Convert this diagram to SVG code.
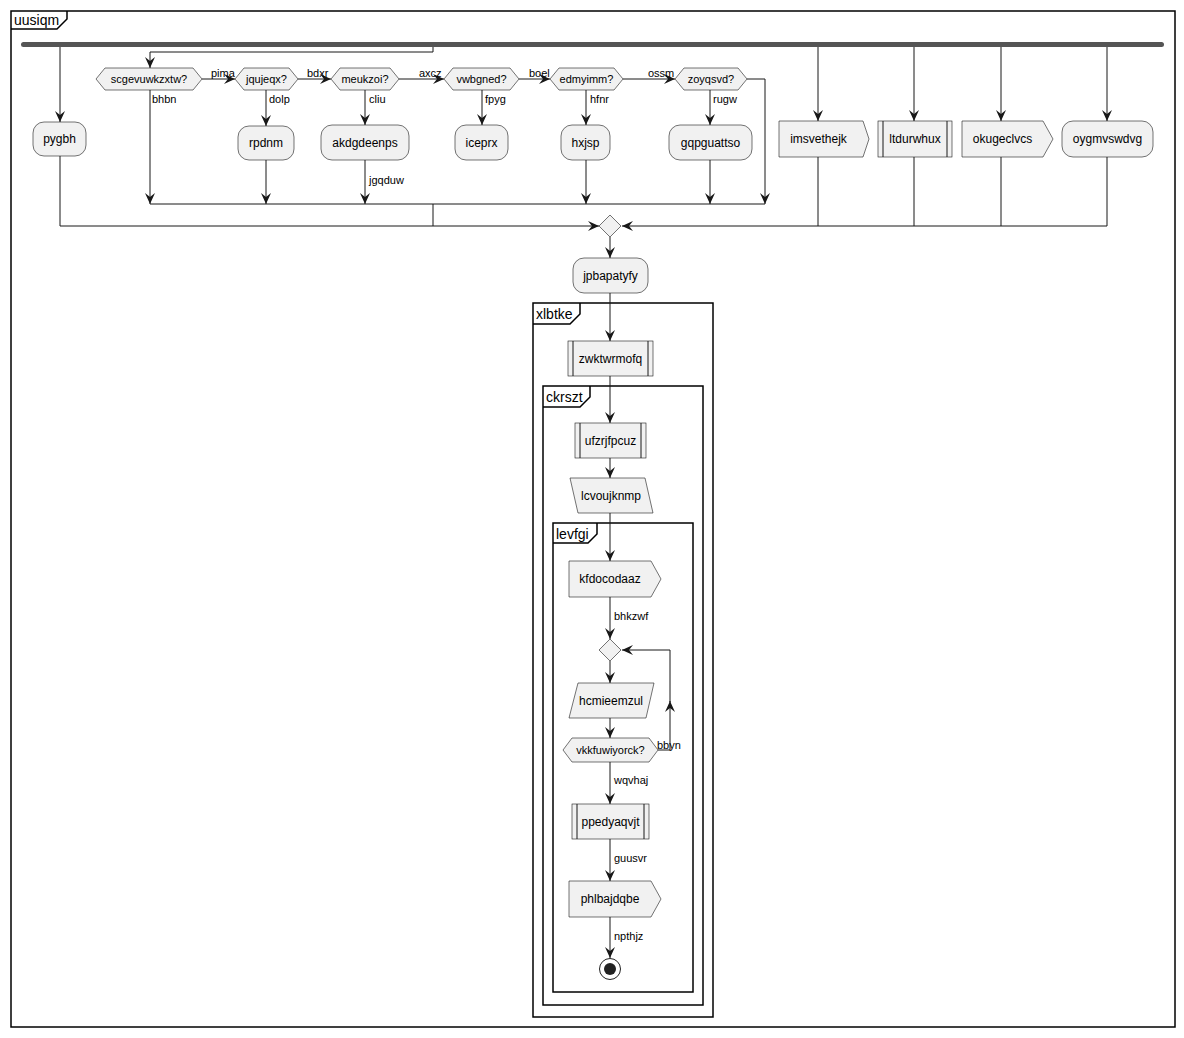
<svg xmlns="http://www.w3.org/2000/svg" width="1184" height="1038" viewBox="0 0 1184 1038">
<style>
text{font-family:"Liberation Sans",Arial,sans-serif;fill:#000}
.t{font-size:12px;text-anchor:middle}
.d{font-size:11px;text-anchor:middle}
.l{font-size:11px}
.f{font-size:14px}
.n{fill:#F1F1F1;stroke:#181818;stroke-width:0.6}
.fr{fill:none;stroke:#000;stroke-width:1.5}
.c{fill:none;stroke:#181818;stroke-width:1}
.ca{fill:none;stroke:#181818;stroke-width:1;marker-end:url(#ah)}
</style>
<defs>
<marker id="ah" viewBox="0 0 11 10" refX="11" refY="5" markerWidth="11" markerHeight="10" orient="auto" markerUnits="userSpaceOnUse"><path d="M0,0 L11,5 L0,10 L4,5 Z" fill="#181818"/></marker>
</defs>
<rect width="1184" height="1038" fill="#fff"/>
<!-- frames -->
<g id="frame-uusiqm">
<rect class="fr" x="11" y="11" width="1164" height="1016"/>
<path class="fr" d="M11,29 L57,29 L67,19 L67,11"/>
<text class="f" x="14" y="25">uusiqm</text>
</g>
<g id="frame-xlbtke">
<rect class="fr" x="533" y="303" width="180" height="714"/>
<path class="fr" d="M533,324 L570,324 L580,314 L580,303"/>
<text class="f" x="536" y="319">xlbtke</text>
</g>
<g id="frame-ckrszt">
<rect class="fr" x="543" y="386" width="160" height="619"/>
<path class="fr" d="M543,407 L580,407 L590,397 L590,386"/>
<text class="f" x="546" y="402">ckrszt</text>
</g>
<g id="frame-levfgi">
<rect class="fr" x="553" y="523" width="140" height="469"/>
<path class="fr" d="M553,543 L588,543 L597,534 L597,523"/>
<text class="f" x="556" y="539">levfgi</text>
</g>
<!-- connectors -->
<g id="connectors">
<path class="ca" d="M60,47 L60,122"/>
<path class="ca" d="M433,47 L433,52 L150,52 L150,68"/>
<path class="ca" d="M818,47 L818,121"/>
<path class="ca" d="M914,47 L914,121"/>
<path class="ca" d="M1001,47 L1001,121"/>
<path class="ca" d="M1107,47 L1107,121"/>
<path class="ca" d="M202,79 L235,79"/>
<path class="ca" d="M298,79 L331,79"/>
<path class="ca" d="M399,79 L444,79"/>
<path class="ca" d="M519,79 L550,79"/>
<path class="ca" d="M623,79 L675,79"/>
<path class="ca" d="M150,90 L150,204"/>
<path class="ca" d="M266,90 L266,126"/>
<path class="ca" d="M266,160 L266,204"/>
<path class="ca" d="M365,90 L365,125"/>
<path class="ca" d="M365,160 L365,204"/>
<path class="ca" d="M482,90 L482,125"/>
<path class="ca" d="M586,90 L586,125"/>
<path class="ca" d="M586,160 L586,204"/>
<path class="ca" d="M710,90 L710,125"/>
<path class="ca" d="M710,160 L710,204"/>
<path class="ca" d="M747,79 L765,79 L765,204"/>
<path class="c" d="M150,204 L765,204"/>
<path class="c" d="M433,204 L433,226"/>
<path class="ca" d="M60,156 L60,226 L599,226"/>
<path class="ca" d="M1107,157 L1107,226 L622,226"/>
<path class="c" d="M818,157 L818,226"/>
<path class="c" d="M914,157 L914,226"/>
<path class="c" d="M1001,157 L1001,226"/>
<path class="ca" d="M610,237 L610,258"/>
<path class="ca" d="M610,293 L610,341"/>
<path class="ca" d="M610,376 L610,423"/>
<path class="ca" d="M610,458 L610,478"/>
<path class="ca" d="M610,513 L610,561"/>
<path class="ca" d="M610,597 L610,639"/>
<path class="ca" d="M610,661 L610,683"/>
<path class="ca" d="M610,718 L610,738"/>
<path class="ca" d="M658,750 L670,750 L670,701"/>
<path class="ca" d="M670,702 L670,650 L622,650"/>
<path class="ca" d="M610,762 L610,804"/>
<path class="ca" d="M610,839 L610,881"/>
<path class="ca" d="M610,917 L610,958"/>
<text class="l" x="211" y="77">pima</text>
<text class="l" x="307" y="77">bdxr</text>
<text class="l" x="419" y="77">axcz</text>
<text class="l" x="529" y="77">boel</text>
<text class="l" x="648" y="77">ossm</text>
<text class="l" x="152" y="103">bhbn</text>
<text class="l" x="269" y="103">dolp</text>
<text class="l" x="369" y="103">cliu</text>
<text class="l" x="485" y="103">fpyg</text>
<text class="l" x="590" y="103">hfnr</text>
<text class="l" x="713" y="103">rugw</text>
<text class="l" x="369" y="184">jgqduw</text>
<text class="l" x="614" y="620">bhkzwf</text>
<text class="l" x="657" y="749">bbyn</text>
<text class="l" x="614" y="784">wqvhaj</text>
<text class="l" x="614" y="862">guusvr</text>
<text class="l" x="614" y="940">npthjz</text>
</g>
<!-- nodes -->
<g id="fork"><rect x="21" y="42" width="1143" height="5" rx="2.5" fill="#555555"/></g>
<g id="pygbh"><rect class="n" x="33" y="122" width="53" height="34" rx="11"/><text class="t" x="59.5" y="143">pygbh</text></g>
<g id="scgevuwkzxtw"><polygon class="n" points="96,79 105,68 193,68 202,79 193,90 105,90"/><text class="d" x="149" y="83">scgevuwkzxtw?</text></g>
<g id="jqujeqx"><polygon class="n" points="235,79 244,68 289,68 298,79 289,90 244,90"/><text class="d" x="266.5" y="83">jqujeqx?</text></g>
<g id="meukzoi"><polygon class="n" points="331,79 340,68 390,68 399,79 390,90 340,90"/><text class="d" x="365" y="83">meukzoi?</text></g>
<g id="vwbgned"><polygon class="n" points="444,79 453,68 510,68 519,79 510,90 453,90"/><text class="d" x="481.5" y="83">vwbgned?</text></g>
<g id="edmyimm"><polygon class="n" points="550,79 559,68 614,68 623,79 614,90 559,90"/><text class="d" x="586.5" y="83">edmyimm?</text></g>
<g id="zoyqsvd"><polygon class="n" points="675,79 684,68 738,68 747,79 738,90 684,90"/><text class="d" x="711" y="83">zoyqsvd?</text></g>
<g id="rpdnm"><rect class="n" x="238" y="126" width="56" height="34" rx="11"/><text class="t" x="266" y="147">rpdnm</text></g>
<g id="akdgdeenps"><rect class="n" x="321" y="125" width="88" height="35" rx="11"/><text class="t" x="365" y="147">akdgdeenps</text></g>
<g id="iceprx"><rect class="n" x="455" y="125" width="53" height="35" rx="11"/><text class="t" x="481.5" y="147">iceprx</text></g>
<g id="hxjsp"><rect class="n" x="561" y="125" width="49" height="35" rx="11"/><text class="t" x="585.5" y="147">hxjsp</text></g>
<g id="gqpguattso"><rect class="n" x="669" y="125" width="83" height="35" rx="11"/><text class="t" x="710.5" y="147">gqpguattso</text></g>
<g id="imsvethejk"><polygon class="n" points="779,121 863,121 869,139 863,157 779,157"/><text class="t" x="818.5" y="143">imsvethejk</text></g>
<g id="ltdurwhux"><rect class="n" x="878" y="121" width="74" height="36"/><path class="c" d="M883,121 L883,157 M947,121 L947,157" stroke-width="0.6"/><text class="t" x="915" y="143">ltdurwhux</text></g>
<g id="okugeclvcs"><polygon class="n" points="962,121 1043,121 1053,139 1043,157 962,157"/><text class="t" x="1002.5" y="143">okugeclvcs</text></g>
<g id="oygmvswdvg"><rect class="n" x="1062" y="121" width="91" height="36" rx="11"/><text class="t" x="1107.5" y="143">oygmvswdvg</text></g>
<g id="merge"><polygon class="n" points="610,215 621,226 610,237 599,226"/></g>
<g id="jpbapatyfy"><rect class="n" x="573" y="258" width="75" height="35" rx="11"/><text class="t" x="610.5" y="280">jpbapatyfy</text></g>
<g id="zwktwrmofq"><rect class="n" x="568" y="341" width="85" height="35"/><path class="c" d="M573,341 L573,376 M648,341 L648,376" stroke-width="0.6"/><text class="t" x="610.5" y="363">zwktwrmofq</text></g>
<g id="ufzrjfpcuz"><rect class="n" x="575" y="423" width="71" height="35"/><path class="c" d="M580,423 L580,458 M641,423 L641,458" stroke-width="0.6"/><text class="t" x="610.5" y="445">ufzrjfpcuz</text></g>
<g id="lcvoujknmp"><polygon class="n" points="570,478 645,478 653,513 578,513"/><text class="t" x="611" y="500">lcvoujknmp</text></g>
<g id="kfdocodaaz"><polygon class="n" points="569,561 651,561 661,579 651,597 569,597"/><text class="t" x="610" y="583">kfdocodaaz</text></g>
<g id="loop"><polygon class="n" points="610,639 621,650 610,661 599,650"/></g>
<g id="hcmieemzul"><polygon class="n" points="578,683 654,683 646,718 569,718"/><text class="t" x="611" y="705">hcmieemzul</text></g>
<g id="vkkfuwiyorck"><polygon class="n" points="563,750 572,738 649,738 658,750 649,762 572,762"/><text class="d" x="610.5" y="754">vkkfuwiyorck?</text></g>
<g id="ppedyaqvjt"><rect class="n" x="572" y="804" width="77" height="35"/><path class="c" d="M577,804 L577,839 M644,804 L644,839" stroke-width="0.6"/><text class="t" x="610.5" y="826">ppedyaqvjt</text></g>
<g id="phlbajdqbe"><polygon class="n" points="569,881 651,881 661,899 651,917 569,917"/><text class="t" x="610" y="903">phlbajdqbe</text></g>
<g id="end"><circle cx="610" cy="969" r="10.5" fill="none" stroke="#222" stroke-width="1"/><circle cx="610" cy="969" r="6" fill="#222"/></g>
</svg>
